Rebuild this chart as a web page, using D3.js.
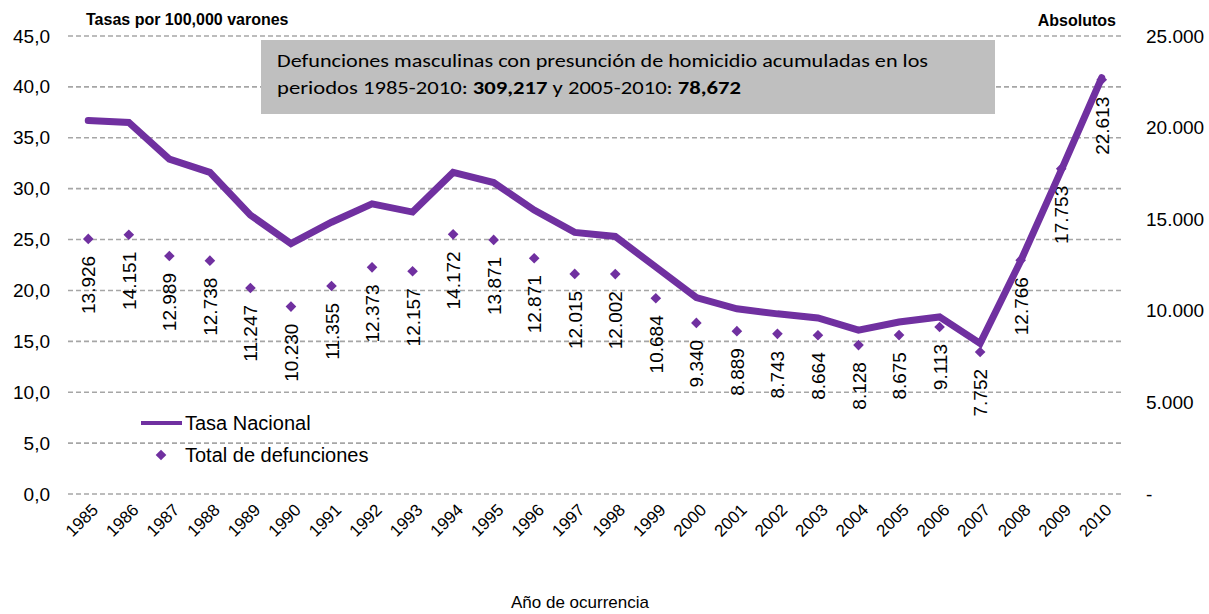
<!DOCTYPE html>
<html>
<head>
<meta charset="utf-8">
<script src="https://cdn.jsdelivr.net/npm/d3@7"></script>
<style>
  html, body { margin: 0; padding: 0; background: #fff; }
  svg { display: block; }
  text { font-family: "Liberation Sans", Arial, sans-serif; fill: #000; }
</style>
</head>
<body>
<svg id="chart" width="1209" height="614"></svg>
<script>
// Años de ocurrencia
const years = ["1985","1986","1987","1988","1989","1990","1991","1992","1993","1994",
  "1995","1996","1997","1998","1999","2000","2001","2002","2003","2004",
  "2005","2006","2007","2008","2009","2010"];

// Tasa nacional por 100,000 varones
const rates = [36.7, 36.5, 32.9, 31.6, 27.4, 24.6, 26.7, 28.5, 27.7, 31.6,
  30.6, 27.9, 25.7, 25.3, 22.3, 19.3, 18.2, 17.7, 17.3, 16.1,
  16.9, 17.4, 14.8, 22.9, 31.8, 40.9];

// Total de defunciones (absolutos)
const deaths = [13926, 14151, 12989, 12738, 11247, 10230, 11355, 12373, 12157, 14172,
  13871, 12871, 12015, 12002, 10684, 9340, 8889, 8743, 8664, 8128,
  8675, 9113, 7752, 12766, 17753, 22613];

const leftTicks = [0, 5, 10, 15, 20, 25, 30, 35, 40, 45];
const rightTicks = [0, 5000, 10000, 15000, 20000, 25000];

const svg = d3.select("#chart");
const m = { left: 68, right: 1122, top: 36, bottom: 494 };
const purple = "#7030A0";
const sans = "Liberation Sans, Arial, sans-serif";

const x = d3.scaleBand().domain(years).range([m.left, m.right]);
const cx = d => x(d) + x.bandwidth() / 2;
const yL = d3.scaleLinear().domain([0, 45]).range([m.bottom, m.top]);
const yR = d3.scaleLinear().domain([0, 25000]).range([m.bottom, m.top]);

const numES = v => d3.format(",.0f")(v).replace(/,/g, ".");

// Líneas de cuadrícula punteadas
svg.append("g").selectAll("line").data(leftTicks).join("line")
  .attr("x1", m.left).attr("x2", m.right)
  .attr("y1", d => yL(d)).attr("y2", d => yL(d))
  .attr("stroke", "#A6A6A6").attr("stroke-width", 1.6)
  .attr("stroke-dasharray", "5,3");

// Eje izquierdo
const axL = svg.append("g").attr("transform", `translate(${m.left},0)`)
  .call(d3.axisLeft(yL).tickValues(leftTicks).tickSize(0).tickPadding(18)
    .tickFormat(d => d3.format(".1f")(d).replace(".", ",")));
axL.select(".domain").remove();
axL.selectAll("text").style("font-size", "19px").style("font-family", sans);

// Eje derecho
const axR = svg.append("g").attr("transform", `translate(${m.right},0)`)
  .call(d3.axisRight(yR).tickValues(rightTicks).tickSize(0).tickPadding(24)
    .tickFormat(d => d === 0 ? "-" : numES(d)));
axR.select(".domain").remove();
axR.selectAll("text").style("font-size", "19px").style("font-family", sans);

// Eje X con etiquetas inclinadas
const axX = svg.append("g").attr("transform", `translate(0,${m.bottom})`)
  .call(d3.axisBottom(x).tickSize(0).tickPadding(0));
axX.select(".domain").remove();
axX.selectAll("text")
  .attr("text-anchor", "end")
  .attr("y", 0)
  .attr("dy", 0)
  .attr("transform", "translate(11,17) rotate(-45)")
  .style("font-size", "17px").style("font-family", sans);

// Títulos de ejes
svg.append("text").attr("x", 86).attr("y", 25)
  .style("font-size", "16px").style("font-weight", "bold").text("Tasas por 100,000 varones");
svg.append("text").attr("x", 1116).attr("y", 26).attr("text-anchor", "end")
  .style("font-size", "16px").style("font-weight", "bold").text("Absolutos");
svg.append("text").attr("x", 580).attr("y", 608).attr("text-anchor", "middle")
  .style("font-size", "17px").text("Año de ocurrencia");

// Total de defunciones: rombos y etiquetas
const diamond = d3.symbol().type(d3.symbolDiamond2).size(72);
svg.append("g").selectAll("path").data(deaths).join("path")
  .attr("d", diamond)
  .attr("transform", (d, i) => `translate(${cx(years[i])},${yR(d)})`)
  .attr("fill", purple);

svg.append("g").selectAll("text").data(deaths).join("text")
  .attr("transform", (d, i) => `translate(${cx(years[i]) + 7},${yR(d) + 17}) rotate(-90)`)
  .attr("text-anchor", "end")
  .style("font-size", "19px")
  .text(d => numES(d));

// Tasa nacional
const line = d3.line().x((d, i) => cx(years[i])).y(d => yL(d));
svg.append("path").datum(rates)
  .attr("d", line)
  .attr("fill", "none")
  .attr("stroke", purple)
  .attr("stroke-width", 7)
  .attr("stroke-linejoin", "miter")
  .attr("stroke-linecap", "round");

// Recuadro de nota
const noteFont = "Carlito, Lato, 'Open Sans', sans-serif";
svg.append("rect").attr("x", 261).attr("y", 40).attr("width", 734).attr("height", 74)
  .attr("fill", "#BFBFBF");
svg.append("text").attr("x", 277).attr("y", 67)
  .attr("textLength", 651).attr("lengthAdjust", "spacingAndGlyphs")
  .style("font-family", noteFont).style("font-size", "19px")
  .text("Defunciones masculinas con presunción de homicidio acumuladas en los");
const l2 = svg.append("text").attr("x", 277).attr("y", 94)
  .attr("textLength", 464).attr("lengthAdjust", "spacingAndGlyphs")
  .style("font-family", noteFont).style("font-size", "19px");
l2.append("tspan").text("periodos 1985-2010:  ");
l2.append("tspan").style("font-weight", "bold").text("309,217");
l2.append("tspan").text("  y 2005-2010: ");
l2.append("tspan").style("font-weight", "bold").text("78,672");

// Leyenda
const lg = svg.append("g");
lg.append("line").attr("x1", 141).attr("x2", 182).attr("y1", 423).attr("y2", 423)
  .attr("stroke", purple).attr("stroke-width", 4);
lg.append("text").attr("x", 185).attr("y", 430).style("font-size", "20px").text("Tasa Nacional");
lg.append("path").attr("d", diamond).attr("transform", "translate(161,455)").attr("fill", purple);
lg.append("text").attr("x", 185).attr("y", 462).style("font-size", "20px").text("Total de defunciones");
</script>
</body>
</html>
